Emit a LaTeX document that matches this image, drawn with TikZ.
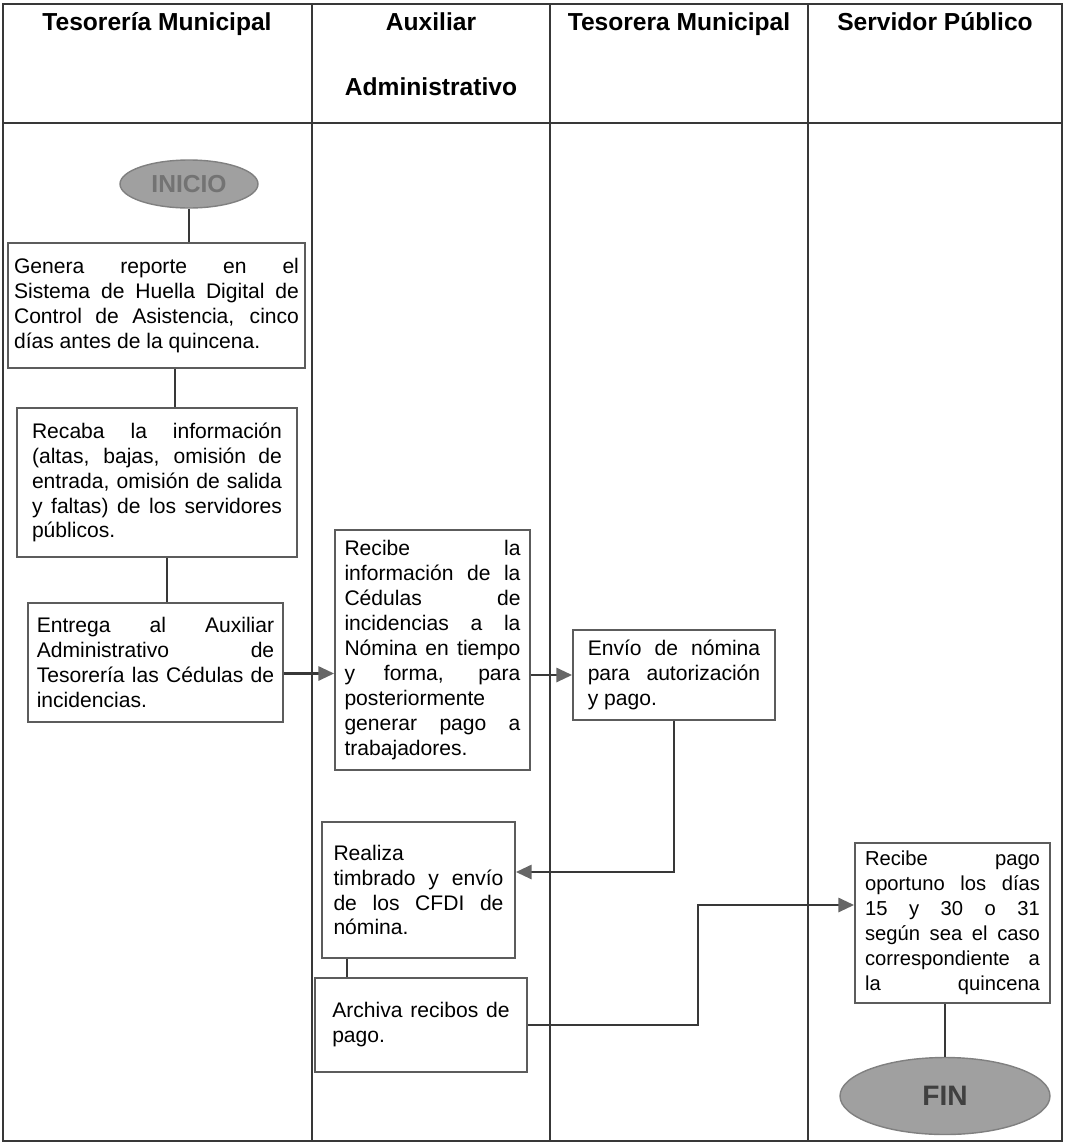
\documentclass[tikz,border=0pt]{standalone}
\usepackage{fontspec}
\setmainfont{Liberation Sans}
\usetikzlibrary{arrows.meta,shapes.geometric}
\definecolor{linegray}{HTML}{383838}
\definecolor{boxgray}{HTML}{5C5C5C}
\definecolor{tipgray}{HTML}{666666}
\definecolor{ovalgray}{HTML}{A0A0A0}
\hbadness=10000

\begin{document}
\begin{tikzpicture}[x=0.02cm,y=-0.02cm,>={Triangle[length=9pt,width=8pt,color=tipgray]},
    lane/.style={draw=linegray,line width=0.8pt},
    conn/.style={draw=linegray,line width=1.6pt},
    head node/.style={font=\fontsize{14}{16}\selectfont\bfseries,align=center,anchor=north,inner sep=0pt},
    main node/.style={draw=boxgray,line width=1pt,align=justify,inner xsep=0pt,inner ysep=0pt,
                      font=\fontsize{12}{14.2}\selectfont},
    end node/.style={ellipse,draw=gray,fill=ovalgray,line width=0.8pt,inner sep=0pt,
                     font=\fontsize{14}{16}\selectfont\bfseries}]
  \useasboundingbox (0,0) rectangle (1065,1143);
  \draw[lane] (3,4) rectangle (1062,1141);
  \draw[lane] (3,123) -- (1062,123);
  \foreach \x in {312,550,808}
    \draw[lane] (\x,4) -- (\x,1141);

  \node[head node] (h1) at (157,12) {Tesorería Municipal};
  \node[head node] (h2) at (431,12) {Auxiliar\\[21pt]Administrativo};
  \node[head node] (h3) at (679,12) {Tesorera Municipal};
  \node[head node] (h4) at (935,12) {Servidor Público};

  \node[end node,minimum width=2.76cm,minimum height=0.96cm,text=black!55] (ini) at (189,184) {INICIO};
  \node[main node,text width=5.7cm,minimum width=5.94cm,minimum height=2.5cm] (1) at (156.5,305.5)
    {Genera reporte en el\linebreak Sistema de Huella Digital de\linebreak Control de Asistencia, cinco\linebreak días antes de la quincena.};
  \node[main node,text width=5.0cm,minimum width=5.6cm,minimum height=2.98cm] (2) at (157,482.5)
    {Recaba la información\linebreak (altas, bajas, omisión de\linebreak entrada, omisión de salida\linebreak y faltas) de los servidores\linebreak públicos.};
  \node[main node,text width=4.75cm,minimum width=5.1cm,minimum height=2.38cm] (3) at (155.5,662.5)
    {Entrega al Auxiliar\linebreak Administrativo de\linebreak Tesorería las Cédulas de\linebreak incidencias.};
  \node[main node,text width=3.52cm,minimum width=3.9cm,minimum height=4.8cm] (4) at (432.5,650)
    {Recibe la\linebreak información de la\linebreak Cédulas de\linebreak incidencias a la\linebreak Nómina en tiempo\linebreak y forma, para\linebreak posteriormente\linebreak generar pago a\linebreak trabajadores.};
  \node[main node,text width=3.45cm,minimum width=4.04cm,minimum height=1.8cm] (5) at (674,675)
    {Envío de nómina\linebreak para autorización\linebreak y pago.};
  \node[main node,text width=3.4cm,minimum width=3.86cm,minimum height=2.72cm] (6) at (418.5,890)
    {Realiza\linebreak timbrado y envío\linebreak de los CFDI de\linebreak nómina.};
  \node[main node,text width=3.55cm,minimum width=4.24cm,minimum height=1.88cm] (7) at (421,1025)
    {Archiva recibos de\linebreak pago.};
  \node[main node,text width=3.5cm,minimum width=3.9cm,minimum height=3.2cm,
        font=\fontsize{11.5}{14.2}\selectfont] (8) at (952.5,923)
    {Recibe pago\linebreak oportuno los días\linebreak 15 y 30 o 31\linebreak según sea el caso\linebreak correspondiente a\linebreak la\hfill quincena};
  \node[end node,minimum width=4.2cm,minimum height=1.54cm,text=black!75,
        font=\fontsize{16}{18}\selectfont\bfseries] (fin) at (945,1096) {FIN};
  \coordinate (bend) at (698,960);

  \path[conn]
    (ini) edge (ini |- 1.north)
    ([xshift=0.37cm]1.south) edge ([xshift=0.37cm]1.south |- 2.north)
    ([xshift=0.2cm]2.south) edge ([xshift=0.2cm]2.south |- 3.north)
    ([yshift=-0.22cm]3.east) edge[->] ([yshift=-0.22cm]3.east -| 4.west)
    (4.east |- 5.west) edge[->] (5.west)
    ([xshift=-1.43cm]6.south) edge ([xshift=-1.43cm]6.south |- 7.north)
    (fin |- 8.south) edge (fin);
  \draw[conn,->] (5.south) |- ([yshift=0.36cm]6.east);
  \draw[conn,->] (7.east) -| (bend) |- ([yshift=0.36cm]8.west);
\end{tikzpicture}
\end{document}
